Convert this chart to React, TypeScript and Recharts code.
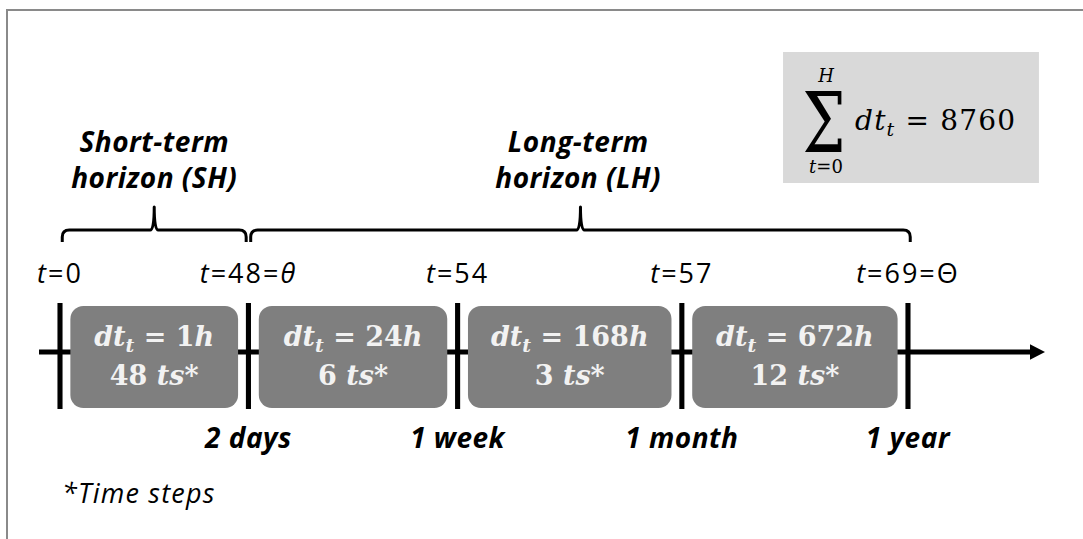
import React from 'react';
import { ComposedChart, XAxis, YAxis, ReferenceArea, ReferenceDot } from 'recharts';

// ---------- data ----------
const timeIndex = [0, 48, 54, 57, 69];
const boundarySymbol = ['', 'θ', '', '', 'Θ'];
const boundaryDuration = ['', '2 days', '1 week', '1 month', '1 year'];
const boundaryPos = [0, 1, 2.11, 3.3, 4.5];
const stepHours = [1, 24, 168, 672];
const stepCount = [48, 6, 3, 12];
const horizonTitle = ['Short-term', 'Long-term'];
const horizonAbbr = ['SH', 'LH'];
const horizonFrom = [0, 1];
const horizonTo = [1, 4];
const totalHours = 8760;
const footnote = '*Time steps';

// ---------- layout / style ----------
const W = 1083;
const H = 539;
const X_DOMAIN: [number, number] = [-0.3184, 5.4288];
const Y_DOMAIN: [number, number] = [-18.7, 35.2];
const SANS = "'Open Sans', 'Noto Sans', sans-serif";
const SERIF = "'DejaVu Serif', 'Liberation Serif', serif";
const L = {
  axisStart: -0.1114,
  arrowBase: 5.1475,
  arrowTip: 5.2271,
  axisHalf: 0.25,
  arrowHalf: 0.78,
  tickHalfW: 0.0135,
  tickTop: 4.9,
  tickBottom: -5.7,
  boxGap: 0.055,
  boxTop: 4.6,
  boxBottom: -5.6,
  boxLine1: 0.6,
  boxLine2: -3.3,
  topLabel: 6.9,
  bottomLabel: -9.6,
  braceInset: 0.012,
  braceBottom: 11.0,
  braceTip: 14.5,
  horizonLine1: 20.0,
  horizonLine2: 16.4,
  sumX1: 3.837,
  sumX2: 5.195,
  sumY1: 16.9,
  sumY2: 30.0,
  sigmaX: 4.054,
  sigmaY: 20.0,
  limX: 4.065,
  upperY: 27.0,
  lowerY: 17.9,
  formulaX: 4.219,
  formulaY: 22.2,
  noteX: 0.011,
  noteY: -15.1,
};

const segments = stepHours.map((h, i) => ({
  hours: h,
  count: stepCount[i],
  from: boundaryPos[i],
  to: boundaryPos[i + 1],
}));

const roundedBox = (fill: string, r: number) => (p: any) => (
  <rect x={p.x} y={p.y} width={p.width} height={p.height} rx={r} ry={r} fill={fill} />
);

const plainRect = (fill: string) => (p: any) => (
  <rect x={p.x} y={p.y} width={p.width} height={p.height} fill={fill} />
);

const arrowShape = (p: any) => (
  <path
    d={`M${p.x},${p.y} L${p.x + p.width},${p.y + p.height / 2} L${p.x},${p.y + p.height} Z`}
    fill="#000"
  />
);

const braceShape = (p: any) => {
  const x1 = p.x;
  const x2 = p.x + p.width;
  const top = p.y;
  const bottom = p.y + p.height;
  const h = top + p.height * 0.66;
  const mid = (x1 + x2) / 2;
  const r = 7;
  const d = `M${x1},${bottom} L${x1},${h + r} Q${x1},${h} ${x1 + r},${h} L${mid - 4},${h} Q${mid},${h} ${mid},${top} Q${mid},${h} ${mid + 4},${h} L${x2 - r},${h} Q${x2},${h} ${x2},${h + r} L${x2},${bottom}`;
  return <path d={d} fill="none" stroke="#000" strokeWidth={3} strokeLinejoin="round" />;
};

const textAt = (key: string, x: number, y: number, render: (cx: number, cy: number) => React.ReactElement) => (
  <ReferenceDot key={key} x={x} y={y} r={0} ifOverflow="visible" shape={(p: any) => render(p.cx, p.cy)} />
);

const boldItalic = { fontFamily: SANS, fontWeight: 700, fontStyle: 'italic', fontSize: 28, letterSpacing: 0.5, fill: '#000' } as const;

export default function App() {
  return (
    <div style={{ position: 'absolute', left: 0, top: 0, width: W, height: H, background: '#fff', overflow: 'hidden' }}>
      <div style={{ position: 'absolute', left: 6, top: 9, width: 2, height: H, background: '#8a8a8a' }} />
      <div style={{ position: 'absolute', left: 6, top: 9, width: W, height: 2, background: '#8a8a8a' }} />
      <div style={{ position: 'absolute', left: 0, top: 0 }}>
        <ComposedChart width={W} height={H} data={segments} margin={{ top: 0, right: 0, bottom: 0, left: 0 }}>
          <XAxis type="number" dataKey="from" domain={X_DOMAIN} allowDataOverflow hide />
          <YAxis type="number" domain={Y_DOMAIN} allowDataOverflow hide />

          {/* timeline axis */}
          <ReferenceArea
            x1={L.axisStart}
            x2={L.arrowBase + 0.01}
            y1={-L.axisHalf}
            y2={L.axisHalf}
            ifOverflow="visible"
            shape={plainRect('#000')}
          />
          <ReferenceArea
            x1={L.arrowBase}
            x2={L.arrowTip}
            y1={-L.arrowHalf}
            y2={L.arrowHalf}
            ifOverflow="visible"
            shape={arrowShape}
          />

          {/* boundary ticks */}
          {boundaryPos.map((p, i) => (
            <ReferenceArea
              key={`tick-${i}`}
              x1={p - L.tickHalfW}
              x2={p + L.tickHalfW}
              y1={L.tickBottom}
              y2={L.tickTop}
              ifOverflow="visible"
              shape={plainRect('#000')}
            />
          ))}

          {/* segment boxes */}
          {segments.map((s, i) => (
            <ReferenceArea
              key={`box-${i}`}
              x1={s.from + L.boxGap}
              x2={s.to - L.boxGap}
              y1={L.boxBottom}
              y2={L.boxTop}
              ifOverflow="visible"
              shape={roundedBox('#7f7f7f', 13)}
            />
          ))}

          {/* braces */}
          {horizonTitle.map((t, i) => (
            <ReferenceArea
              key={`brace-${i}`}
              x1={boundaryPos[horizonFrom[i]] + L.braceInset}
              x2={boundaryPos[horizonTo[i]] + (i === 0 ? -L.braceInset : L.braceInset)}
              y1={L.braceBottom}
              y2={L.braceTip}
              ifOverflow="visible"
              shape={braceShape}
            />
          ))}

          {/* sum box */}
          <ReferenceArea
            x1={L.sumX1}
            x2={L.sumX2}
            y1={L.sumY1}
            y2={L.sumY2}
            ifOverflow="visible"
            shape={plainRect('#d9d9d9')}
          />

          {/* segment texts */}
          {segments.map((s, i) =>
            textAt(`l1-${i}`, (s.from + s.to) / 2, L.boxLine1, (cx, cy) => (
              <text x={cx} y={cy} textAnchor="middle" fontFamily={SERIF} fontWeight={700} fontSize={27} fill="#f2f2f2" style={{ whiteSpace: 'pre' }}>
                <tspan fontStyle="italic">dt</tspan>
                <tspan fontStyle="italic" fontSize={19} dy={6}>t</tspan>
                <tspan dy={-6}>{` = ${s.hours}`}</tspan>
                <tspan fontStyle="italic">h</tspan>
              </text>
            ))
          )}
          {segments.map((s, i) =>
            textAt(`l2-${i}`, (s.from + s.to) / 2, L.boxLine2, (cx, cy) => (
              <text x={cx} y={cy} textAnchor="middle" fontFamily={SERIF} fontWeight={700} fontSize={27} fill="#f2f2f2" style={{ whiteSpace: 'pre' }}>
                <tspan>{`${s.count} `}</tspan>
                <tspan fontStyle="italic">ts*</tspan>
              </text>
            ))
          )}

          {/* boundary labels */}
          {boundaryPos.map((p, i) =>
            textAt(`top-${i}`, p, L.topLabel, (cx, cy) => (
              <text x={cx} y={cy} textAnchor="middle" fontFamily={SANS} fontSize={27} letterSpacing={2} fill="#000">
                <tspan fontStyle="italic">t</tspan>
                <tspan>{`=${timeIndex[i]}`}</tspan>
                {boundarySymbol[i] ? <tspan>=</tspan> : null}
                {boundarySymbol[i] ? (
                  <tspan fontStyle={boundarySymbol[i] === 'θ' ? 'italic' : 'normal'}>{boundarySymbol[i]}</tspan>
                ) : null}
              </text>
            ))
          )}
          {boundaryPos.map((p, i) =>
            boundaryDuration[i]
              ? textAt(`bot-${i}`, p, L.bottomLabel, (cx, cy) => (
                  <text x={cx} y={cy} textAnchor="middle" {...boldItalic}>
                    {boundaryDuration[i]}
                  </text>
                ))
              : null
          )}

          {/* horizon labels */}
          {horizonTitle.map((t, i) => {
            const mid = (boundaryPos[horizonFrom[i]] + boundaryPos[horizonTo[i]]) / 2;
            return [
              textAt(`h1-${i}`, mid, L.horizonLine1, (cx, cy) => (
                <text x={cx} y={cy} textAnchor="middle" {...boldItalic}>
                  {t}
                </text>
              )),
              textAt(`h2-${i}`, mid, L.horizonLine2, (cx, cy) => (
                <text x={cx} y={cy} textAnchor="middle" {...boldItalic}>
                  {`horizon (${horizonAbbr[i]})`}
                </text>
              )),
            ];
          })}

          {/* sum formula */}
          {textAt('sigma', L.sigmaX, L.sigmaY, (cx, cy) => (
            <text x={cx} y={cy} textAnchor="middle" fontFamily={SERIF} fontSize={84} fill="#000" textLength={43} lengthAdjust="spacingAndGlyphs">
              Σ
            </text>
          ))}
          {textAt('upper', L.limX, L.upperY, (cx, cy) => (
            <text x={cx} y={cy} textAnchor="middle" fontFamily={SERIF} fontStyle="italic" fontSize={18} fill="#000">
              H
            </text>
          ))}
          {textAt('lower', L.limX, L.lowerY, (cx, cy) => (
            <text x={cx} y={cy} textAnchor="middle" fontFamily={SERIF} fontSize={18} fill="#000">
              <tspan fontStyle="italic">t</tspan>
              <tspan>{`=${timeIndex[0]}`}</tspan>
            </text>
          ))}
          {textAt('formula', L.formulaX, L.formulaY, (cx, cy) => (
            <text x={cx} y={cy} textAnchor="start" fontFamily={SERIF} fontSize={28} letterSpacing={1.2} fill="#000" style={{ whiteSpace: 'pre' }}>
              <tspan fontStyle="italic">dt</tspan>
              <tspan fontStyle="italic" fontSize={19} dy={6}>t</tspan>
              <tspan dy={-6}>{` = ${totalHours}`}</tspan>
            </text>
          ))}

          {/* footnote */}
          {textAt('note', L.noteX, L.noteY, (cx, cy) => (
            <text x={cx} y={cy} textAnchor="start" fontFamily={SANS} fontStyle="italic" fontSize={27} letterSpacing={1.2} fill="#000">
              {footnote}
            </text>
          ))}
        </ComposedChart>
      </div>
    </div>
  );
}
